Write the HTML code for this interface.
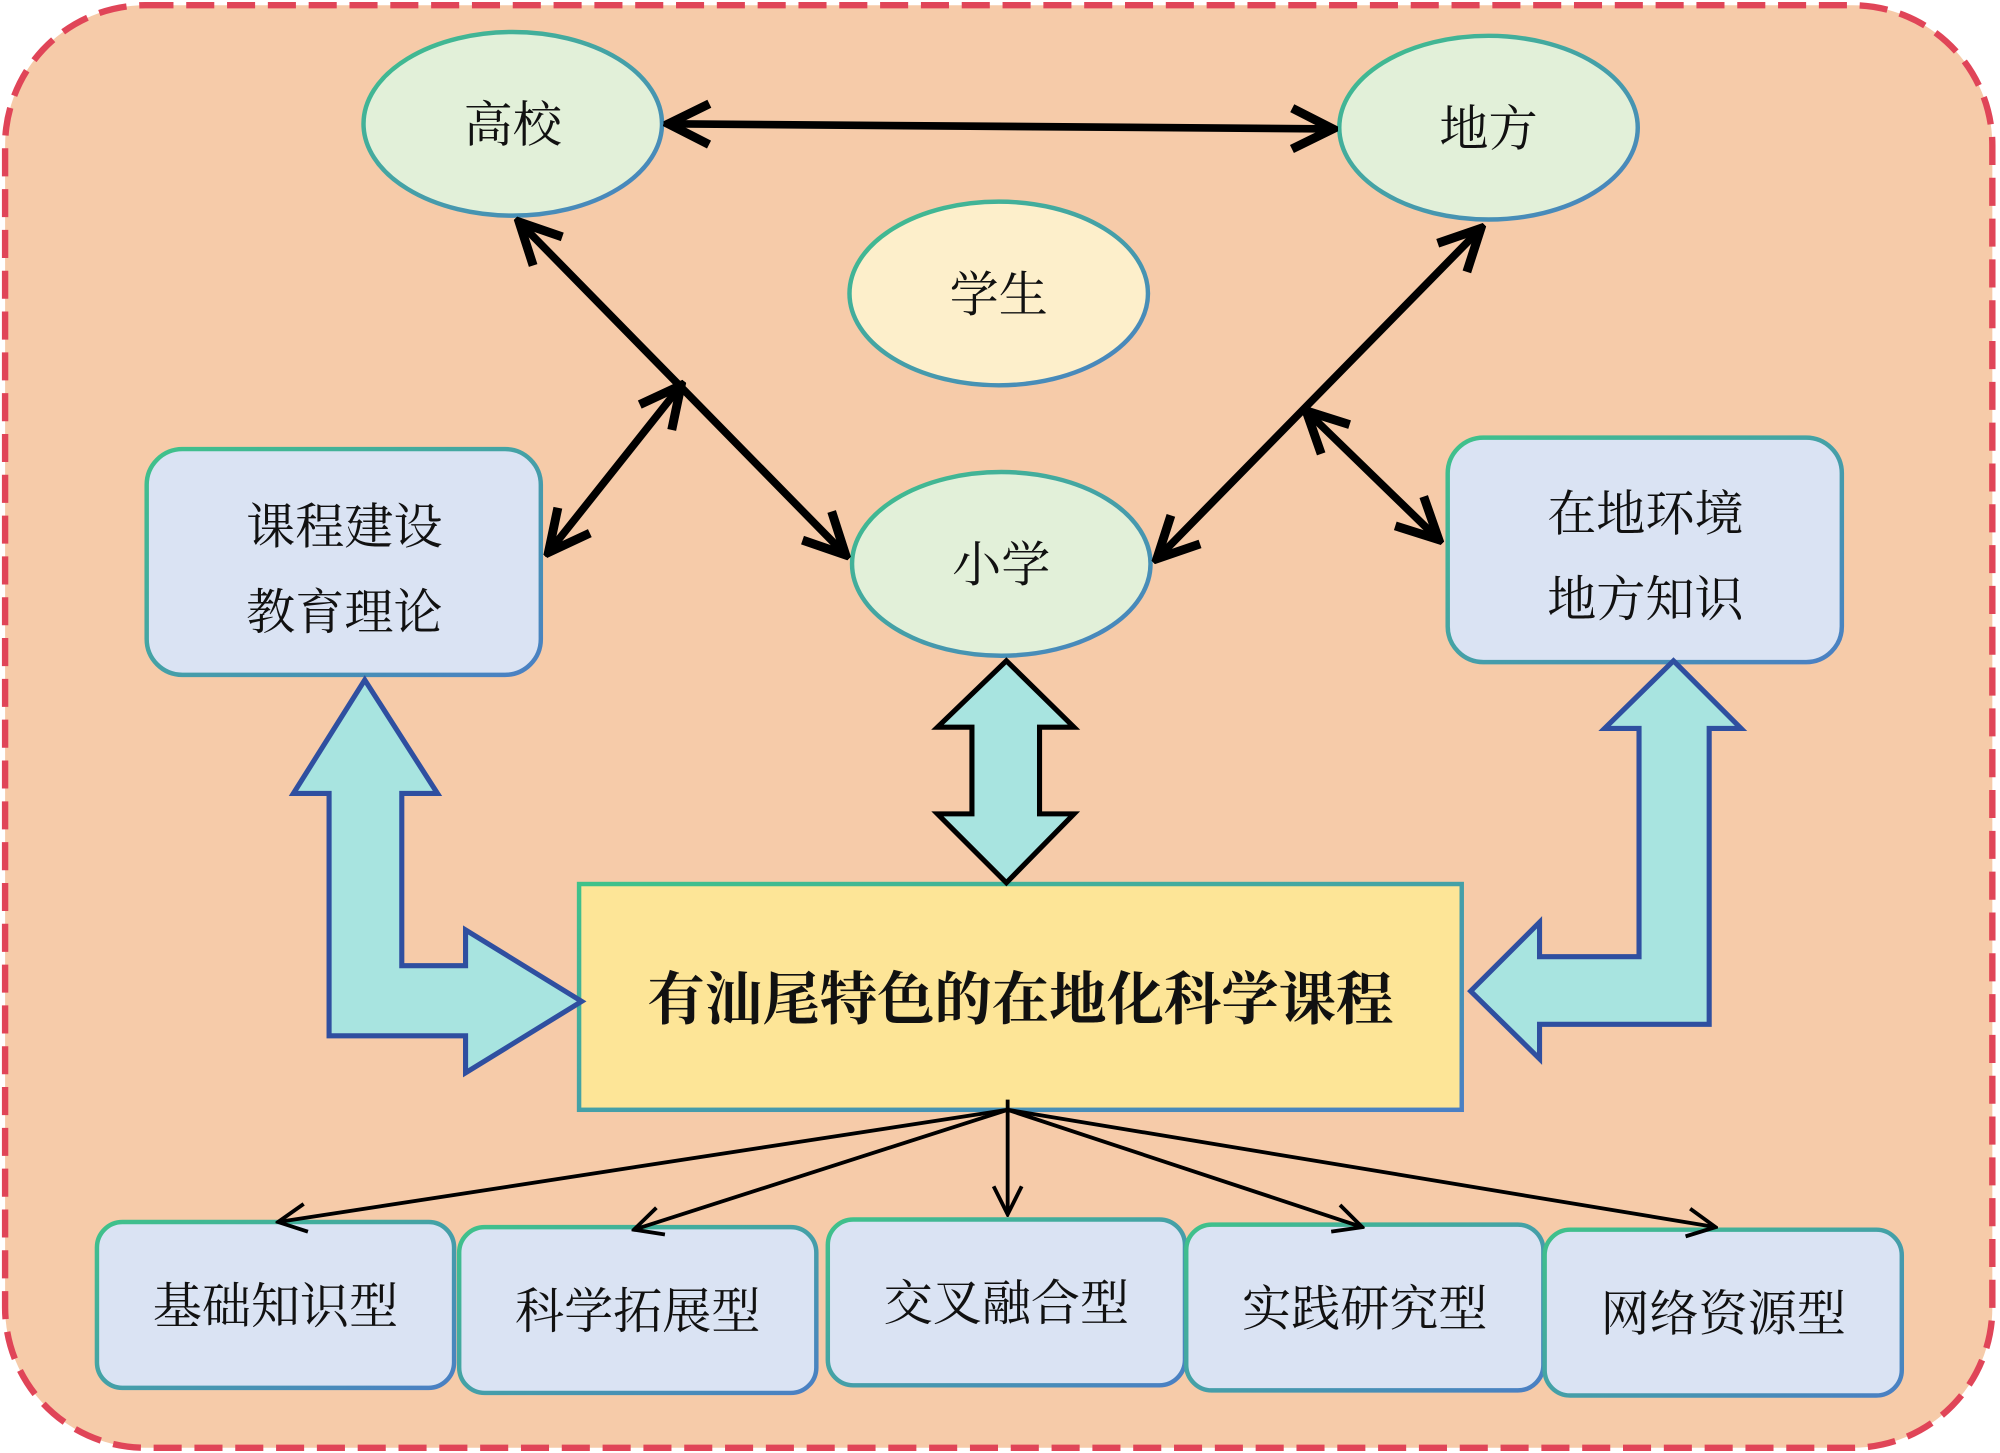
<!DOCTYPE html>
<html><head><meta charset="utf-8"><style>
html,body{margin:0;padding:0;background:#fff}
svg{display:block}
text{font-family:"Liberation Serif","Noto Serif CJK SC","Noto Sans CJK SC",serif;fill:#111}
</style></head><body>
<svg width="2000" height="1453" viewBox="0 0 1568 1139" xmlns="http://www.w3.org/2000/svg">
<defs>
<linearGradient id="g" x1="0" y1="0" x2="1" y2="1"><stop offset="0" stop-color="#3fc28a"/><stop offset="1" stop-color="#4a7fc4"/></linearGradient>
<marker id="b" markerWidth="40" markerHeight="40" refX="36" refY="20" orient="auto-start-reverse" markerUnits="userSpaceOnUse" viewBox="0 0 40 40"><path d="M4,4 L36,20 L4,36" fill="none" stroke="#000" stroke-width="7"/></marker>
<marker id="c" markerWidth="30" markerHeight="30" refX="28" refY="15" orient="auto" markerUnits="userSpaceOnUse" viewBox="0 0 30 30"><path d="M6,4 L28,15 L6,26" fill="none" stroke="#000" stroke-width="3"/></marker>
</defs>
<rect x="4" y="4" width="1558" height="1131" rx="110" fill="#f6cba9" stroke="#e04558" stroke-width="5" stroke-dasharray="22 10"/>
<g stroke="url(#g)" stroke-width="3.5">
<ellipse cx="402" cy="97" rx="117" ry="72" fill="#e2f0d9"/>
<ellipse cx="1167" cy="100" rx="117" ry="72" fill="#e2f0d9"/>
<ellipse cx="783" cy="230" rx="117" ry="72" fill="#fdefcb"/>
<ellipse cx="785" cy="442" rx="117" ry="72" fill="#e2f0d9"/>
<rect x="115" y="352" width="309" height="177" rx="28" fill="#dae3f3"/>
<rect x="1135" y="343" width="309" height="176" rx="28" fill="#dae3f3"/>
<rect x="454" y="693" width="692" height="177" fill="#fde597"/>
<rect x="76" y="958" width="280" height="130" rx="20" fill="#dae3f3"/>
<rect x="360" y="962" width="280" height="130" rx="20" fill="#dae3f3"/>
<rect x="649" y="956" width="280" height="130" rx="20" fill="#dae3f3"/>
<rect x="930" y="960" width="280" height="130" rx="20" fill="#dae3f3"/>
<rect x="1211" y="964" width="280" height="130" rx="20" fill="#dae3f3"/>
</g>
<g fill="#a8e4e0" stroke-width="4" stroke-linejoin="miter">
<polygon stroke="#000" points="789,518 842,570 815,570 815,638 842,638 789,692 735,638 762,638 762,570 735,570"/>
<polygon stroke="#2f4fa0" points="286,533 343,622 315,622 315,757 365,757 365,729 456,785 365,841 365,812 258,812 258,622 230,622"/>
<polygon stroke="#2f4fa0" points="1312,518 1365,571 1340,571 1340,803 1207,803 1207,830 1153,777 1207,723 1207,750 1285,750 1285,571 1258,571"/>
</g>
<g stroke="#000" stroke-width="6" fill="none">
<line x1="524" y1="97" x2="1045" y2="101" marker-start="url(#b)" marker-end="url(#b)"/>
<line x1="407" y1="174" x2="663" y2="435" marker-start="url(#b)" marker-end="url(#b)"/>
<line x1="1161" y1="179" x2="907" y2="438" marker-start="url(#b)" marker-end="url(#b)"/>
<line x1="534" y1="302" x2="430" y2="433" marker-start="url(#b)" marker-end="url(#b)"/>
<line x1="1024" y1="322" x2="1128" y2="423" marker-start="url(#b)" marker-end="url(#b)"/>
</g>
<g stroke="#000" stroke-width="3" fill="none">
<line x1="790" y1="862" x2="790" y2="952" marker-end="url(#c)"/>
<line x1="790" y1="870" x2="218" y2="958" marker-end="url(#c)"/>
<line x1="790" y1="870" x2="497" y2="964" marker-end="url(#c)"/>
<line x1="790" y1="870" x2="1068" y2="962" marker-end="url(#c)"/>
<line x1="790" y1="870" x2="1345" y2="962" marker-end="url(#c)"/>
</g>
<g font-size="38.5" text-anchor="middle">
<text x="402" y="111">高校</text>
<text x="1167" y="114">地方</text>
<text x="783" y="244">学生</text>
<text x="785" y="456">小学</text>
<text x="270" y="426">课程建设</text>
<text x="270" y="493">教育理论</text>
<text x="1290" y="416">在地环境</text>
<text x="1290" y="483">地方知识</text>
<text x="216" y="1037">基础知识型</text>
<text x="500" y="1041">科学拓展型</text>
<text x="789" y="1035">交叉融合型</text>
<text x="1070" y="1039">实践研究型</text>
<text x="1351" y="1043">网络资源型</text>
<text x="800" y="799" font-size="45" font-weight="bold" fill="#000">有汕尾特色的在地化科学课程</text>
</g>
</svg>
</body></html>
